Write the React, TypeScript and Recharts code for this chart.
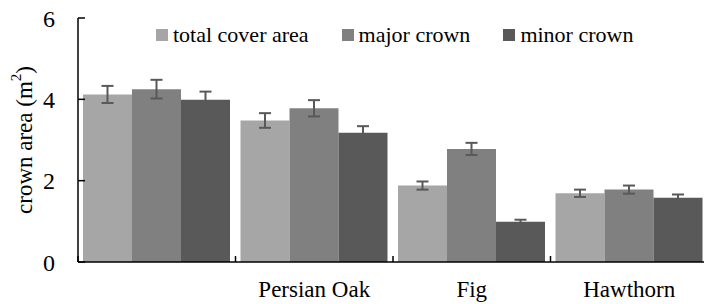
import { BarChart, Bar, XAxis, YAxis, ErrorBar, Legend, Label } from "recharts";

const categories = ["", "Persian Oak", "Fig", "Hawthorn"];
const totalCover = [4.12, 3.48, 1.88, 1.69];
const totalCoverErr = [0.21, 0.18, 0.1, 0.09];
const majorCrown = [4.25, 3.78, 2.78, 1.78];
const majorCrownErr = [0.23, 0.2, 0.15, 0.1];
const minorCrown = [3.99, 3.18, 0.99, 1.58];
const minorCrownErr = [0.2, 0.16, 0.05, 0.08];
const yTicks = [0, 2, 4, 6];

const data = categories.map((name, i) => ({
  name,
  total: totalCover[i],
  totalErr: totalCoverErr[i],
  major: majorCrown[i],
  majorErr: majorCrownErr[i],
  minor: minorCrown[i],
  minorErr: minorCrownErr[i],
}));

const series = [
  { key: "total", err: "totalErr", name: "total cover area", color: "#a6a6a6" },
  { key: "major", err: "majorErr", name: "major crown", color: "#808080" },
  { key: "minor", err: "minorErr", name: "minor crown", color: "#595959" },
];

const FONT = "Liberation Serif, serif";
const CHART_W = 710;
const CHART_H = 304;
const X_AXIS_H = 30;
const MARGIN = { top: 18, right: 2, left: 0, bottom: 42 - X_AXIS_H };
const Y_AXIS_W = 78;
const BAND = (CHART_W - MARGIN.right - MARGIN.left - Y_AXIS_W) / categories.length;
const X_TICK_MARGIN = 19;
const Y_TICK_MARGIN = 23;

function XTick(props: any) {
  const { x, y, payload } = props;
  const axisY = y - X_TICK_MARGIN;
  const bx = x - BAND / 2;
  return (
    <g>
      <line x1={bx} x2={bx} y1={axisY} y2={axisY - 6} stroke="#000" strokeWidth={1.5} />
      <text x={x} y={y} dy="0.71em" textAnchor="middle" fontSize={23} fontFamily={FONT} fill="#000">
        {payload.value}
      </text>
    </g>
  );
}

function YTick(props: any) {
  const { x, y, payload } = props;
  const ax = x + Y_TICK_MARGIN;
  return (
    <g>
      <line x1={ax} x2={ax + 7} y1={y} y2={y} stroke="#000" strokeWidth={1.5} />
      <text x={x} y={y} dy="0.36em" textAnchor="end" fontSize={24} fontFamily={FONT} fill="#000">
        {payload.value}
      </text>
    </g>
  );
}

function YLabel(props: any) {
  const vb = props.viewBox || { x: 0, y: 0, height: 0 };
  const cx = 24;
  const cy = vb.y + vb.height / 2;
  return (
    <text
      x={cx}
      y={cy}
      transform={`rotate(-90 ${cx} ${cy})`}
      textAnchor="middle"
      dominantBaseline="central"
      fontSize={23}
      fontFamily={FONT}
      fill="#000"
    >
      crown area (m<tspan fontSize={15} dy={-8}>2</tspan>
      <tspan dy={8}>)</tspan>
    </text>
  );
}

function LegendContent() {
  return (
    <div style={{ display: "flex", alignItems: "center", paddingLeft: 156, fontFamily: FONT, fontSize: 22 }}>
      {series.map((s) => (
        <div key={s.key} style={{ display: "flex", alignItems: "center", marginRight: 33 }}>
          <span style={{ width: 12, height: 12, background: s.color, marginRight: 5, display: "inline-block" }} />
          <span style={{ color: "#000", lineHeight: "22px" }}>{s.name}</span>
        </div>
      ))}
    </div>
  );
}

export default function App() {
  return (
    <div style={{ position: "absolute", left: 0, top: 0, width: 704, height: 304, overflow: "hidden", background: "#fff" }}>
      <BarChart width={CHART_W} height={CHART_H} data={data} margin={MARGIN} barCategoryGap={5} barGap={0}>
        <XAxis
          dataKey="name"
          height={X_AXIS_H}
          tick={<XTick />}
          tickLine={false}
          tickSize={0}
          tickMargin={X_TICK_MARGIN}
          axisLine={{ stroke: "#000", strokeWidth: 1.5 }}
          interval={0}
        />
        <YAxis
          width={Y_AXIS_W}
          domain={[0, 6]}
          ticks={yTicks}
          tick={<YTick />}
          tickLine={false}
          tickSize={0}
          tickMargin={Y_TICK_MARGIN}
          axisLine={{ stroke: "#000", strokeWidth: 1.5 }}
        >
          <Label content={<YLabel />} />
        </YAxis>
        <Legend
          layout="horizontal"
          verticalAlign="middle"
          align="center"
          wrapperStyle={{ top: 24, left: 0, width: CHART_W }}
          content={<LegendContent />}
        />
        {series.map((s) => (
          <Bar key={s.key} dataKey={s.key} name={s.name} fill={s.color} isAnimationActive={false}>
            <ErrorBar dataKey={s.err} width={6} stroke="#595959" strokeWidth={2} />
          </Bar>
        ))}
      </BarChart>
    </div>
  );
}
